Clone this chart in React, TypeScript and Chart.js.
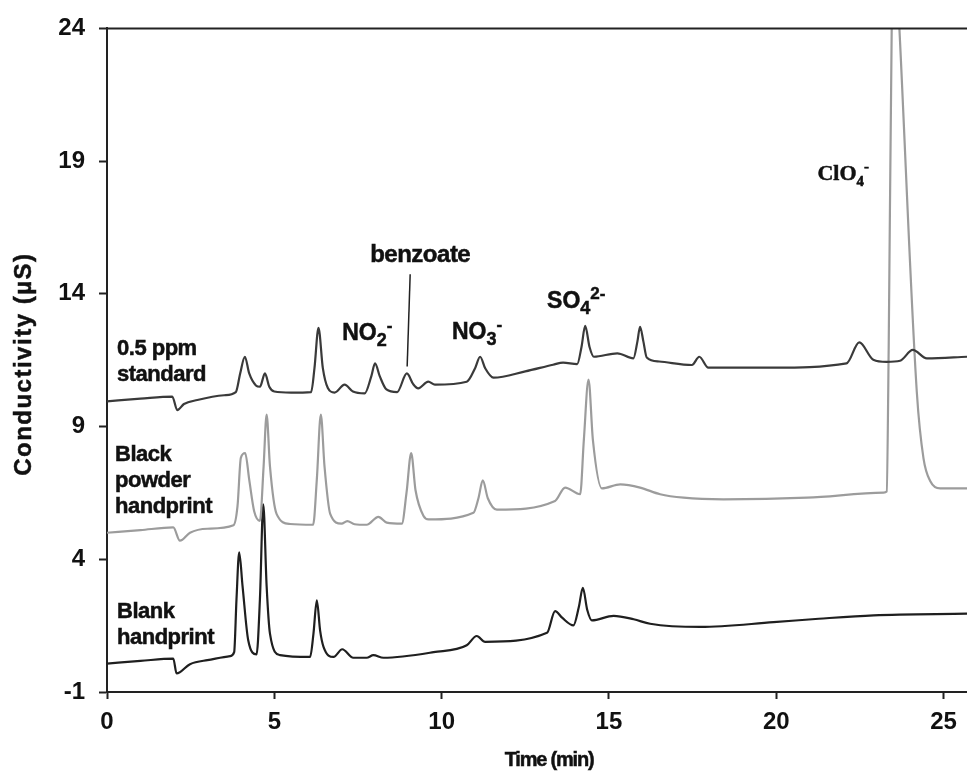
import React, { useEffect, useRef } from 'react';
import { Chart, registerables } from 'chart.js';

Chart.register(...registerables);

// ---- Data (time in min, conductivity in µS) ----
const seriesNames = ['0.5 ppm standard', 'Black powder handprint', 'Blank handprint'];

const standardTime = [
  0.0, 1.0, 1.95, 2.1, 2.3, 2.7, 3.5, 3.85, 3.98, 4.12, 4.25, 4.45, 4.57, 4.72, 4.85, 5.0, 5.5, 6.1,
  6.2, 6.32, 6.45, 6.6, 6.8, 7.1, 7.35, 7.7, 7.9, 8.01, 8.15, 8.35, 8.67, 8.96, 9.15, 9.3, 9.6, 9.8,
  10.75, 11.0, 11.15, 11.3, 11.55, 12.5, 13.33, 13.63, 14.05, 14.18, 14.29, 14.42, 14.55, 15.25, 15.73,
  15.85, 15.93, 16.03, 16.13, 16.5, 17.48, 17.7, 17.97, 19.9, 22.1, 22.48, 22.9, 23.3, 23.7, 24.08, 24.5, 25.7,
];
const standardValue = [
  9.95, 10.05, 10.13, 9.62, 9.85, 10.0, 10.18, 10.3, 11.0, 11.63, 11.0, 10.55, 10.5, 11.0, 10.5, 10.32, 10.28, 10.3,
  11.2, 12.72, 11.2, 10.45, 10.28, 10.58, 10.32, 10.25, 10.9, 11.38, 10.9, 10.4, 10.3, 11.0, 10.6, 10.44, 10.69, 10.58,
  10.69, 11.2, 11.63, 11.2, 10.84, 11.08, 11.33, 11.41, 11.35, 12.0, 12.79, 12.0, 11.63, 11.76, 11.57,
  12.2, 12.76, 12.2, 11.6, 11.45, 11.32, 11.63, 11.22, 11.22, 11.38, 12.17, 11.52, 11.44, 11.48, 11.89, 11.57, 11.63,
];

const powderTime = [
  0.0, 1.0, 1.98, 2.18, 2.48, 3.0, 3.78, 3.9, 4.0, 4.13, 4.25, 4.4, 4.57, 4.68, 4.77, 4.87, 5.07, 5.47,
  6.16, 6.27, 6.39, 6.5, 6.67, 7.01, 7.18, 7.4, 7.76, 8.11, 8.36, 8.81, 8.95, 9.09, 9.22, 9.46, 9.61,
  10.95, 11.1, 11.23, 11.38, 11.65, 13.39, 13.69, 14.14, 14.25, 14.39, 14.52, 14.79, 15.34, 15.93, 16.53,
  17.23, 18.42, 20.92, 23.21, 23.3, 23.36, 23.45, 23.56, 23.68, 24.2, 24.4, 24.6, 24.9, 25.7,
];
const powderValue = [
  5.0, 5.1, 5.2, 4.7, 5.0, 5.15, 5.28, 6.0, 7.82, 8.0, 7.0, 5.8, 5.45, 7.5, 9.45, 7.5, 5.7, 5.33,
  5.3, 7.0, 9.45, 7.5, 5.71, 5.34, 5.44, 5.32, 5.3, 5.6, 5.38, 5.34, 6.5, 8.0, 6.6, 5.63, 5.5,
  5.75, 6.3, 6.97, 6.3, 5.87, 6.2, 6.7, 6.45, 8.5, 10.77, 8.5, 6.67, 6.82, 6.7, 6.45,
  6.32, 6.26, 6.32, 6.51, 6.55, 12.0, 24.0, 27.0, 24.0, 10.3, 7.8, 6.95, 6.67, 6.67,
];

const blankTime = [
  0.0, 1.0, 1.98, 2.08, 2.48, 3.0, 3.68, 3.8, 3.87, 3.95, 4.05, 4.22, 4.47, 4.57, 4.67, 4.77, 4.87, 5.17,
  6.07, 6.17, 6.27, 6.37, 6.47, 6.77, 7.03, 7.36, 7.76, 7.96, 8.26, 9.76, 10.75, 11.05, 11.3, 13.15,
  13.39, 13.6, 13.94, 14.1, 14.22, 14.35, 14.49, 15.14, 15.74, 16.23, 17.73, 19.92, 21.27, 22.91, 25.7,
];
const blankValue = [
  0.07, 0.17, 0.26, -0.3, 0.05, 0.2, 0.35, 0.5, 2.5, 4.26, 3.0, 0.95, 0.42, 2.5, 6.07, 3.0, 1.2, 0.39,
  0.32, 1.2, 2.45, 1.3, 0.7, 0.32, 0.61, 0.29, 0.29, 0.39, 0.29, 0.5, 0.76, 1.11, 0.89, 1.23,
  2.05, 1.8, 1.51, 2.2, 2.92, 2.1, 1.7, 1.87, 1.74, 1.57, 1.45, 1.63, 1.76, 1.89, 1.95,
];

const xTicks = [0, 5, 10, 15, 20, 25];
const yTicks = [-1, 4, 9, 14, 19, 24];
const xTitle = 'Time (min)';
const yTitle = 'Conductivity (µS)';

// trace labels (anchor in data units: left x, first baseline y)
const traceLabels = [
  { lines: ['0.5 ppm', 'standard'], x: 0.3, y: 11.71 },
  { lines: ['Black', 'powder', 'handprint'], x: 0.24, y: 7.7 },
  { lines: ['Blank', 'handprint'], x: 0.3, y: 1.77 },
];
const ionLabels = [
  { main: 'NO', sub: '2', sup: '-', x: 7.03, y: 12.27, serif: false },
  { main: 'NO', sub: '3', sup: '-', x: 10.31, y: 12.31, serif: false },
  { main: 'SO', sub: '4', sup: '2-', x: 13.15, y: 13.47, serif: false },
  { main: 'ClO', sub: '4', sup: '-', x: 21.23, y: 18.27, serif: true },
];
const benzoateLabel = { text: 'benzoate', x: 9.36, y: 15.19 };
const benzoateLeader = [
  [9.06, 14.74],
  [8.97, 11.26],
];

const SANS = '"Liberation Sans", Arial, sans-serif';
const SERIF = '"Liberation Serif", "Times New Roman", serif';
const INK = '#111';

const toPoints = (xs: number[], ys: number[]) => xs.map((x, i) => ({ x, y: ys[i] }));

const annotationPlugin = {
  id: 'annotations',
  afterDraw(chart: any) {
    const { ctx, chartArea, scales } = chart;
    const xs = scales.x;
    const ys = scales.y;
    ctx.save();
    // top frame line
    ctx.strokeStyle = '#222';
    ctx.lineWidth = 2;
    ctx.beginPath();
    ctx.moveTo(chartArea.left, chartArea.top);
    ctx.lineTo(chartArea.right, chartArea.top);
    ctx.stroke();

    ctx.fillStyle = INK;
    ctx.strokeStyle = INK;
    ctx.lineWidth = 0.5;
    ctx.textAlign = 'left';
    ctx.textBaseline = 'alphabetic';

    const heavy = (t: string, x: number, y: number) => {
      ctx.fillText(t, x, y);
      ctx.strokeText(t, x, y);
    };

    // trace labels
    ctx.font = `bold 22px ${SANS}`;
    (ctx as any).letterSpacing = '-0.5px';
    traceLabels.forEach((lab) => {
      const px = xs.getPixelForValue(lab.x);
      const py = ys.getPixelForValue(lab.y);
      lab.lines.forEach((t, i) => heavy(t, px, py + i * 26));
    });
    (ctx as any).letterSpacing = '0px';

    // ion labels
    ionLabels.forEach((lab) => {
      const fam = lab.serif ? SERIF : SANS;
      const px = xs.getPixelForValue(lab.x);
      const py = ys.getPixelForValue(lab.y);
      ctx.font = `bold ${lab.serif ? 22 : 23}px ${fam}`;
      heavy(lab.main, px, py);
      const w = ctx.measureText(lab.main).width;
      ctx.font = `bold ${lab.serif ? 15 : 18}px ${fam}`;
      heavy(lab.sub, px + w, py + 6);
      const ws = ctx.measureText(lab.sub).width;
      ctx.font = `bold ${lab.serif ? 15 : 17}px ${fam}`;
      heavy(lab.sup, px + w + ws, py - 9);
    });

    // benzoate
    ctx.font = `bold 24px ${SANS}`;
    ctx.textAlign = 'center';
    (ctx as any).letterSpacing = '-0.5px';
    heavy(benzoateLabel.text, xs.getPixelForValue(benzoateLabel.x), ys.getPixelForValue(benzoateLabel.y));
    (ctx as any).letterSpacing = '0px';
    ctx.strokeStyle = '#222';
    ctx.lineWidth = 1.5;
    ctx.beginPath();
    ctx.moveTo(xs.getPixelForValue(benzoateLeader[0][0]), ys.getPixelForValue(benzoateLeader[0][1]));
    ctx.lineTo(xs.getPixelForValue(benzoateLeader[1][0]), ys.getPixelForValue(benzoateLeader[1][1]));
    ctx.stroke();

    // axis titles
    ctx.strokeStyle = INK;
    ctx.lineWidth = 0.5;
    ctx.textAlign = 'center';
    ctx.font = `bold 20px ${SANS}`;
    (ctx as any).letterSpacing = '-1.2px';
    heavy(xTitle, chartArea.left + (chartArea.right - chartArea.left) * 0.514, 766);
    ctx.font = `bold 24px ${SANS}`;
    (ctx as any).letterSpacing = '1.5px';
    ctx.translate(31, (chartArea.top + chartArea.bottom) / 2 + 4);
    ctx.rotate(-Math.PI / 2);
    heavy(yTitle, 0, 0);
    (ctx as any).letterSpacing = '0px';
    ctx.restore();
  },
};

export default function App() {
  const canvasRef = useRef<HTMLCanvasElement | null>(null);

  useEffect(() => {
    const canvas = canvasRef.current;
    if (!canvas) return;
    const tickFont = { family: SANS, size: 24, weight: 'bold' as const };
    const chart = new Chart(canvas, {
      type: 'line',
      data: {
        datasets: [
          {
            label: seriesNames[0],
            data: toPoints(standardTime, standardValue),
            borderColor: '#3a3a3a',
            borderWidth: 2.2,
          },
          {
            label: seriesNames[1],
            data: toPoints(powderTime, powderValue),
            borderColor: '#9c9c9c',
            borderWidth: 2.2,
          },
          {
            label: seriesNames[2],
            data: toPoints(blankTime, blankValue),
            borderColor: '#1f1f1f',
            borderWidth: 2.2,
          },
        ],
      },
      options: {
        animation: false,
        responsive: false,
        devicePixelRatio: 1,
        parsing: false,
        normalized: true,
        elements: {
          point: { radius: 0, hoverRadius: 0 },
          line: { cubicInterpolationMode: 'monotone', borderJoinStyle: 'round', fill: false },
        },
        layout: { padding: { top: 25, left: 0, right: 0, bottom: 0 } },
        plugins: {
          legend: { display: false },
          tooltip: { enabled: false },
          title: { display: false },
        },
        scales: {
          x: {
            type: 'linear',
            min: 0,
            max: 25.7,
            afterBuildTicks: (s: any) => {
              s.ticks = xTicks.map((v) => ({ value: v }));
            },
            afterFit: (s: any) => {
              s.height = 91;
            },
            ticks: { font: tickFont, color: INK, padding: 9, maxRotation: 0, autoSkip: false },
            grid: { display: true, drawOnChartArea: false, drawTicks: true, tickLength: 7, tickColor: '#222', tickWidth: 2 },
            border: { display: true, color: '#222', width: 2 },
            title: { display: false },
          },
          y: {
            type: 'linear',
            min: -1,
            max: 24,
            afterBuildTicks: (s: any) => {
              s.ticks = yTicks.map((v) => ({ value: v }));
            },
            afterFit: (s: any) => {
              s.width = 107;
            },
            ticks: { font: tickFont, color: INK, padding: 14, autoSkip: false },
            grid: { display: true, drawOnChartArea: false, drawTicks: true, tickLength: 8, tickColor: '#222', tickWidth: 2 },
            border: { display: true, color: '#222', width: 2 },
            title: { display: false },
          },
        },
      },
      plugins: [annotationPlugin],
    } as any);
    return () => chart.destroy();
  }, []);

  return (
    <div style={{ position: 'fixed', left: 0, top: 0, width: 967, height: 783, background: '#fff' }}>
      <canvas ref={canvasRef} width={967} height={783} style={{ display: 'block' }} />
    </div>
  );
}
